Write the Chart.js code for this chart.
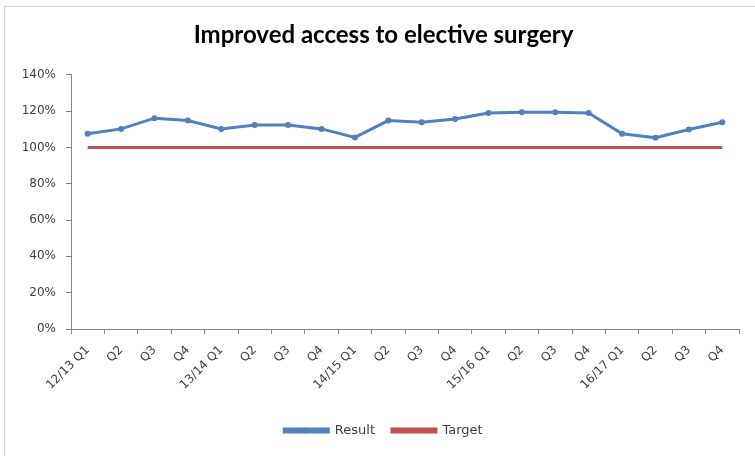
<!DOCTYPE html>
<html>
<head>
<meta charset="utf-8">
<script src="https://cdn.jsdelivr.net/npm/chart.js@4.4.1/dist/chart.umd.min.js"></script>
<style>
  html, body { margin: 0; padding: 0; background: #ffffff; }
  #wrap { position: relative; width: 755px; height: 456px; overflow: hidden; }
  #frame { position: absolute; left: 4px; top: 6px; width: 800px; height: 500px;
           border: 1px solid #d4d4d4; box-sizing: border-box; pointer-events: none; }
  canvas { position: absolute; left: 0; top: 0; }
</style>
</head>
<body>
<div id="wrap">
  <div id="frame"></div>
  <canvas id="c" width="755" height="456"></canvas>
</div>
<script>
// Quarterly periods
const categories = [
  '12/13 Q1', 'Q2', 'Q3', 'Q4',
  '13/14 Q1', 'Q2', 'Q3', 'Q4',
  '14/15 Q1', 'Q2', 'Q3', 'Q4',
  '15/16 Q1', 'Q2', 'Q3', 'Q4',
  '16/17 Q1', 'Q2', 'Q3', 'Q4'
];

// Result, % of target
const resultValues = [
  107.5, 110.2, 116.1, 114.8,
  110.2, 112.4, 112.4, 110.2,
  105.5, 114.8, 113.9, 115.7,
  118.9, 119.4, 119.4, 119.0,
  107.5, 105.3, 109.9, 113.9
];

// Target, %
const targetValues = [
  100, 100, 100, 100,
  100, 100, 100, 100,
  100, 100, 100, 100,
  100, 100, 100, 100,
  100, 100, 100, 100
];

const yTicks = [0, 20, 40, 60, 80, 100, 120, 140];

const TITLE_FONT = 'Lato, "Open Sans", sans-serif';
const TEXT_FONT = '"DejaVu Sans", Verdana, sans-serif';

// Small marker drawn on the middle of the "Result" legend line
const legendMarker = {
  id: 'legendMarker',
  afterDraw(chart) {
    const legend = chart.legend;
    if (!legend || !legend.legendHitBoxes || !legend.legendHitBoxes.length) return;
    const box = legend.legendHitBoxes[0];
    const bw = legend.options.labels.boxWidth;
    const ctx = chart.ctx;
    ctx.save();
    ctx.fillStyle = chart.data.datasets[0].borderColor;
    ctx.beginPath();
    ctx.arc(box.left + bw / 2, box.top + box.height / 2, 3, 0, Math.PI * 2);
    ctx.fill();
    ctx.restore();
  }
};

new Chart(document.getElementById('c'), {
  type: 'line',
  data: {
    labels: categories,
    datasets: [
      {
        label: 'Result',
        data: resultValues,
        borderColor: '#4F81BD',
        backgroundColor: '#4F81BD',
        borderWidth: 3,
        pointRadius: 3,
        pointBackgroundColor: '#4F81BD',
        pointBorderColor: '#4F81BD',
        pointBorderWidth: 0,
        tension: 0
      },
      {
        label: 'Target',
        data: targetValues,
        borderColor: '#C0504D',
        backgroundColor: '#C0504D',
        borderWidth: 3,
        pointRadius: 0,
        tension: 0
      }
    ]
  },
  plugins: [legendMarker],
  options: {
    responsive: false,
    animation: false,
    layout: { padding: { left: 14, right: 2, top: 0, bottom: 9 } },
    plugins: {
      title: {
        display: true,
        text: 'Improved access to elective surgery',
        color: '#000000',
        font: { family: TITLE_FONT, size: 24, weight: 'bold', lineHeight: 1.2 },
        padding: { top: 21, bottom: 25 }
      },
      legend: {
        position: 'bottom',
        labels: {
          color: '#404040',
          font: { family: TEXT_FONT, size: 13 },
          boxWidth: 44,
          boxHeight: 3,
          padding: 17
        }
      },
      tooltip: { enabled: false }
    },
    scales: {
      x: {
        offset: true,
        grid: {
          offset: true,
          drawOnChartArea: false,
          drawTicks: true,
          tickLength: 5,
          color: '#868686'
        },
        border: { color: '#868686', width: 1 },
        ticks: {
          color: '#404040',
          font: { family: TEXT_FONT, size: 12 },
          maxRotation: 45,
          minRotation: 45,
          autoSkip: false,
          padding: 9
        },
        afterFit(scale) { scale.height = 78; }
      },
      y: {
        min: 0,
        max: 140,
        afterBuildTicks(scale) { scale.ticks = yTicks.map(v => ({ value: v })); },
        grid: {
          drawOnChartArea: false,
          drawTicks: true,
          tickLength: 5,
          color: '#868686'
        },
        border: { color: '#868686', width: 1 },
        ticks: {
          color: '#404040',
          font: { family: TEXT_FONT, size: 12 },
          padding: 10,
          callback: v => v + '%'
        },
        afterFit(scale) { scale.width = 57; }
      },
      // empty spacer on the right so the plot ends short of the frame
      spacer: {
        position: 'right',
        min: 0,
        max: 140,
        grid: { display: false },
        border: { display: false },
        ticks: { display: false },
        afterFit(scale) { scale.width = 14; }
      }
    }
  }
});
</script>
</body>
</html>
